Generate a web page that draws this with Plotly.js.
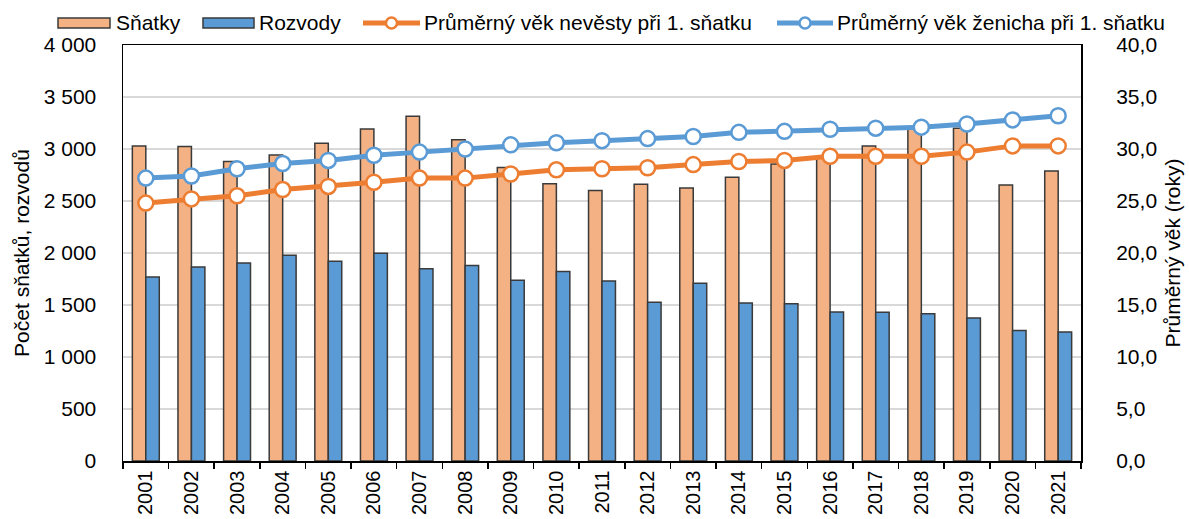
<!DOCTYPE html>
<html>
<head>
<meta charset="utf-8">
<script src="https://cdn.plot.ly/plotly-3.0.1.min.js"></script>
<style>html,body{margin:0;padding:0;background:#fff;}#chart{width:1189px;height:519px;}</style>
</head>
<body>
<div id="chart"></div>
<script>
const years = ["2001","2002","2003","2004","2005","2006","2007","2008","2009","2010","2011","2012","2013","2014","2015","2016","2017","2018","2019","2020","2021"];
const snatky = [3030,3025,2880,2942,3055,3192,3314,3090,2821,2667,2600,2660,2625,2728,2856,2930,3028,3210,3200,2654,2788];
const rozvody = [1769,1865,1904,1978,1920,1997,1849,1881,1737,1821,1731,1526,1710,1519,1513,1433,1430,1417,1375,1256,1240];
const vekNevesty = [24.8,25.2,25.5,26.1,26.4,26.8,27.2,27.2,27.6,28.0,28.1,28.2,28.5,28.8,28.9,29.3,29.3,29.3,29.7,30.3,30.3];
const vekZenicha = [27.2,27.4,28.1,28.6,28.9,29.4,29.7,30.0,30.4,30.6,30.8,31.0,31.2,31.6,31.7,31.9,32.0,32.1,32.4,32.8,33.2];
const leftTicks = [0,500,1000,1500,2000,2500,3000,3500,4000];
const rightTicks = [0,5,10,15,20,25,30,35,40];
const seriesNames = ["Sňatky","Rozvody","Průměrný věk nevěsty při 1. sňatku","Průměrný věk ženicha při 1. sňatku"];
const seriesColors = ["#F4B183","#5B9BD5","#ED7D31","#5B9BD5"];

const FF = "Liberation Sans, Arial, sans-serif";
const W = 1189, H = 519;
const M = {l:123, r:108, t:45, b:58};
const PW = W - M.l - M.r, PH = H - M.t - M.b;
const px = x => (x - M.l) / PW;
const py = y => 1 - (y - M.t) / PH;

const traces = [
  {type:"bar", name:seriesNames[0], x:years, y:snatky,
   marker:{color:seriesColors[0], line:{color:"#3a3a3a", width:1.5}}},
  {type:"bar", name:seriesNames[1], x:years, y:rozvody,
   marker:{color:seriesColors[1], line:{color:"#3a3a3a", width:1.5}}},
  {type:"scatter", mode:"lines+markers", name:seriesNames[2], x:years, y:vekNevesty, yaxis:"y2",
   line:{color:seriesColors[2], width:5}, marker:{size:15, color:"#fff", line:{color:seriesColors[2], width:2.5}}},
  {type:"scatter", mode:"lines+markers", name:seriesNames[3], x:years, y:vekZenicha, yaxis:"y2",
   line:{color:seriesColors[3], width:5}, marker:{size:15, color:"#fff", line:{color:seriesColors[3], width:2.5}}}
];

// custom legend (pixel layout of the reference legend row)
const legendItems = [
  {kind:"bar",  x0:58,  x1:110, tx:114},
  {kind:"bar",  x0:203, x1:254, tx:257},
  {kind:"line", x0:363, x1:420, tx:422},
  {kind:"line", x0:777, x1:833, tx:835}
];
const legY = 23;
const shapes = [], annotations = [];
legendItems.forEach((it, i) => {
  if (it.kind === "bar") {
    shapes.push({type:"rect", xref:"paper", yref:"paper", x0:px(it.x0), x1:px(it.x1), y0:py(legY-5), y1:py(legY+5),
      fillcolor:seriesColors[i], line:{color:"#3a3a3a", width:1.5}});
  } else {
    shapes.push({type:"line", xref:"paper", yref:"paper", x0:px(it.x0), x1:px(it.x1), y0:py(legY), y1:py(legY),
      line:{color:seriesColors[i], width:5}});
    const cx = (it.x0 + it.x1) / 2;
    shapes.push({type:"circle", xref:"paper", yref:"paper", x0:px(cx-5.5), x1:px(cx+5.5), y0:py(legY+5.5), y1:py(legY-5.5),
      fillcolor:"#fff", line:{color:seriesColors[i], width:2.5}});
  }
  annotations.push({xref:"paper", yref:"paper", x:px(it.tx), y:py(legY), xanchor:"left", yanchor:"middle",
    text:seriesNames[i], showarrow:false, font:{family:FF, size:21, color:"#000"}});
});

const layout = {
  width:W, height:H,
  margin:{l:M.l, r:M.r, t:M.t, b:M.b, pad:0},
  paper_bgcolor:"#fff", plot_bgcolor:"#fff",
  font:{family:FF, size:21, color:"#000"},
  separators:", ",
  barmode:"group", bargap:0.41, bargroupgap:0,
  showlegend:false,
  shapes:shapes, annotations:annotations,
  xaxis:{type:"category", range:[-0.5,20.5], tickangle:-90, tickfont:{size:20}, showline:true, linecolor:"#000", linewidth:1.5,
         mirror:true, ticks:"outside", tickson:"boundaries", ticklen:6, tickcolor:"#000", tickwidth:1.5,
         showgrid:false, automargin:false},
  yaxis:{range:[0,4000], tickvals:leftTicks, tickformat:",.0f", tickfont:{size:21}, showline:true, linecolor:"#000", linewidth:1.5,
         mirror:true, showgrid:true, gridcolor:"#d9d9d9", gridwidth:1.5, ticks:"outside", ticklen:21,
         tickcolor:"rgba(0,0,0,0)", zeroline:false, automargin:false,
         title:{text:"Počet sňatků, rozvodů", font:{size:21}, standoff:8}},
  yaxis2:{range:[0,40], tickvals:rightTicks, tickformat:".1f", tickfont:{size:21}, overlaying:"y", side:"right", showgrid:false,
          showline:false, ticks:"outside", ticklen:30, tickcolor:"rgba(0,0,0,0)", zeroline:false, automargin:false,
          title:{text:"Průměrný věk (roky)", font:{size:21}, standoff:9}}
};

Plotly.newPlot("chart", traces, layout, {displayModeBar:false, staticPlot:true});
</script>
</body>
</html>
